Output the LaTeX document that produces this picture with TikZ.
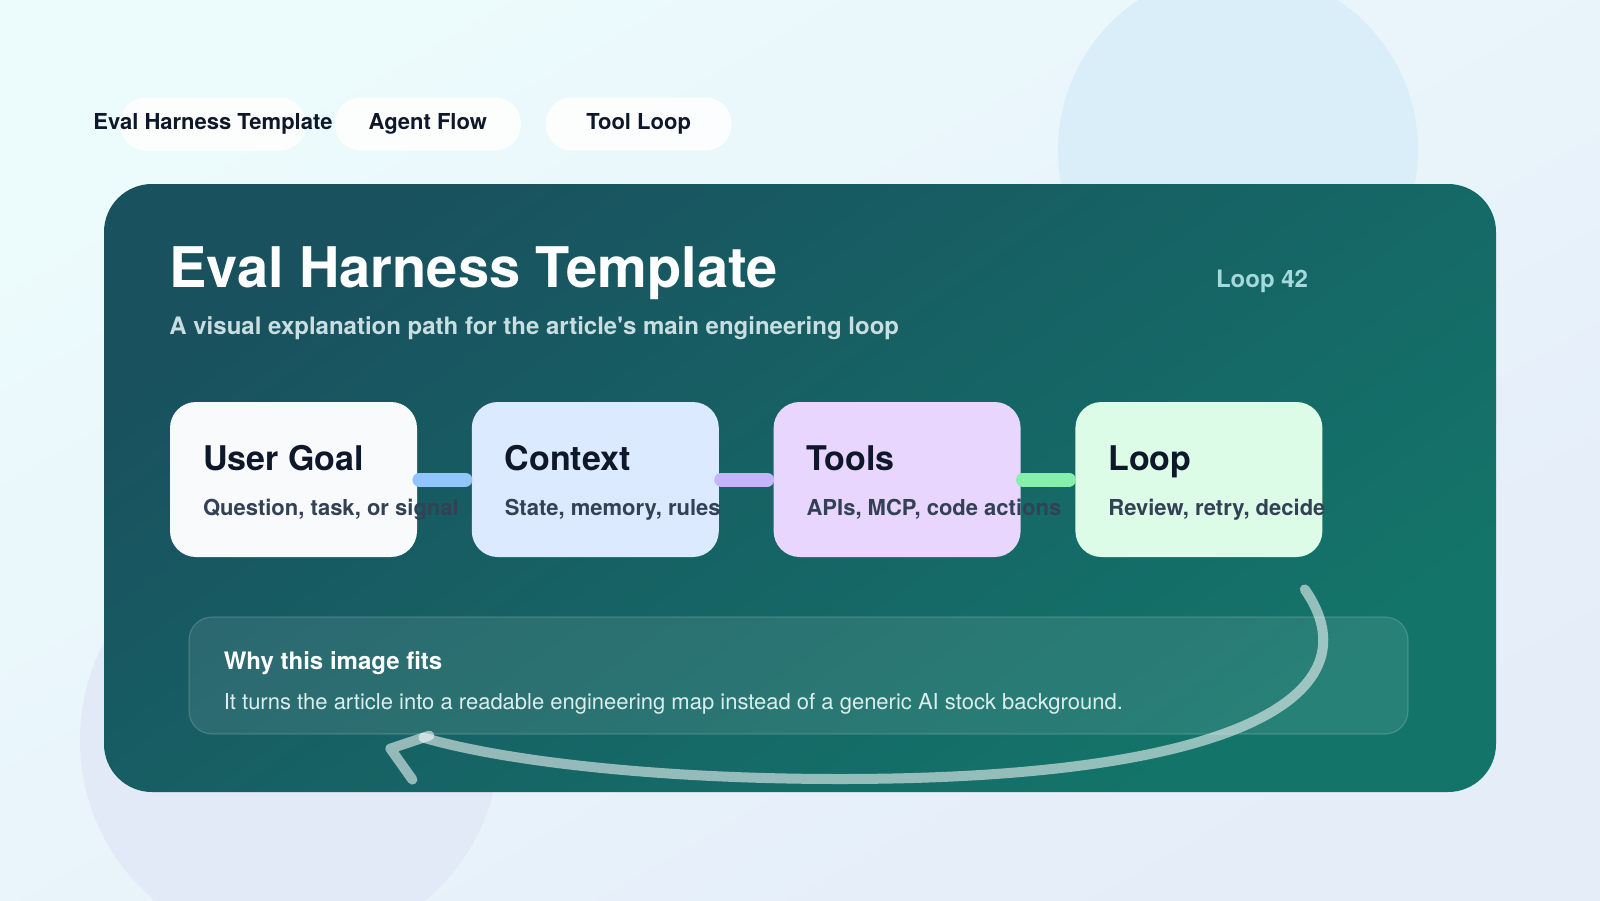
\documentclass[tikz,border=0pt]{standalone}
\usepackage{fontspec}
\setmainfont{TeX Gyre Heros}
\usepackage{tikz}
\usetikzlibrary{positioning}
\definecolor{bgtl}{HTML}{ECFBFC}
\definecolor{bgbr}{HTML}{E5EDF9}
\definecolor{blobblue}{HTML}{D9EEF9}
\definecolor{blobviolet}{HTML}{E2E9F7}
\definecolor{cardtl}{HTML}{19515F}
\definecolor{cardbr}{HTML}{13756A}
\definecolor{ink}{HTML}{0F172A}
\definecolor{slate}{HTML}{334155}
\definecolor{ledetext}{HTML}{C9DEE1}
\definecolor{tallytext}{HTML}{A6D9DD}
\definecolor{bodytext}{HTML}{DCEDED}
\definecolor{goalfill}{HTML}{F8FAFC}
\definecolor{contextfill}{HTML}{DBEAFE}
\definecolor{toolsfill}{HTML}{E9D6FE}
\definecolor{loopfill}{HTML}{DCFCE7}
\definecolor{goallink}{HTML}{93C5FD}
\definecolor{contextlink}{HTML}{C4B5FD}
\definecolor{toolslink}{HTML}{86EFAC}

\begin{document}
\begin{tikzpicture}[
  x=0.5pt, y=0.5pt,
  node distance=27pt,
  pill/.style={
    fill=white, fill opacity=0.85, rounded corners=13pt, minimum width=93pt,
    minimum height=26.5pt, inner sep=0pt
  },
  tabtext/.style={text=ink, font=\bfseries\fontsize{11}{13}\selectfont},
  card/.style={
    minimum width=696pt, minimum height=304pt, rounded corners=24pt, inner sep=0pt,
    top color=cardtl, bottom color=cardbr, shading angle=35
  },
  headline/.style={anchor=base west, inner sep=0pt, text=white,
    font=\bfseries\fontsize{28}{32}\selectfont},
  lede/.style={anchor=base west, inner sep=0pt, text=ledetext,
    font=\bfseries\fontsize{12}{14}\selectfont},
  tally/.style={anchor=base, inner sep=0pt, text=tallytext,
    font=\bfseries\fontsize{12}{14}\selectfont},
  stepbox/.style={
    rounded corners=13pt, minimum width=123.5pt, minimum height=77.5pt, inner sep=0pt
  },
  steptitle/.style={anchor=base west, inner sep=0pt, text=ink,
    font=\bfseries\fontsize{17}{20}\selectfont},
  stepnote/.style={anchor=base west, inner sep=0pt, text=slate,
    font=\bfseries\fontsize{11}{13}\selectfont},
  link/.style={line width=7pt, line cap=round},
  panel/.style={
    minimum width=609.5pt, minimum height=58.5pt, rounded corners=11.5pt, inner sep=0pt,
    fill=white, fill opacity=0.09, draw=white, draw opacity=0.16, line width=0.6pt
  },
  whyhead/.style={anchor=base west, inner sep=0pt, text=white,
    font=\bfseries\fontsize{12}{14}\selectfont},
  whybody/.style={anchor=base west, inner sep=0pt, text=bodytext,
    font=\fontsize{11}{13}\selectfont},
  backarc/.style={draw=white, draw opacity=0.55, line width=5pt,
    line cap=round, line join=round}
]
  % backdrop
  \shade[top color=bgtl, bottom color=bgbr, shading angle=30]
    (0,0) rectangle (1600,-900);
  \useasboundingbox (0,0) rectangle (1600,-900);
  \fill[blobblue] (1238,-150) circle[radius=180];
  \fill[blobviolet] (290,-740) circle[radius=210];

  % tabs
  \node[pill] (pilleval) at (213,-124) {};
  \node[pill, right=14pt of pilleval] (pillagent) {};
  \node[pill, right=12pt of pillagent] (pilltool) {};
  \node[tabtext] (tabeval) at (pilleval) {Eval Harness Template};
  \node[tabtext] (tabagent) at (pillagent) {Agent Flow};
  \node[tabtext] (tabtool) at (pilltool) {Tool Loop};

  % card
  \node[card] (card) at (800,-488) {};
  \node[headline] (title) at (169,-287) {Eval Harness Template};
  \node[lede] (lede) at (169,-334) {A visual explanation path for the article\textquotesingle s main engineering loop};
  \node[tally] (tally) at (1262,-287) {Loop 42};

  % steps
  \node[stepbox, fill=goalfill] (goal) at (293.5,-479.5) {};
  \node[stepbox, fill=contextfill, right=of goal] (context) {};
  \node[stepbox, fill=toolsfill, right=of context] (tools) {};
  \node[stepbox, fill=loopfill, right=of tools] (loop) {};
  \draw[link, draw=goallink] ([xshift=1pt]goal.east) -- ([xshift=-3pt]context.west);
  \draw[link, draw=contextlink] ([xshift=1pt]context.east) -- ([xshift=-3pt]tools.west);
  \draw[link, draw=toolslink] ([xshift=1pt]tools.east) -- ([xshift=-3pt]loop.west);
  \node[steptitle] (goaltitle) at ([shift={(33,-69)}]goal.north west) {User Goal};
  \node[stepnote] (goalnote) at ([shift={(33,-114)}]goal.north west) {Question, task, or signal};
  \node[steptitle] (contexttitle) at ([shift={(33,-69)}]context.north west) {Context};
  \node[stepnote] (contextnote) at ([shift={(33,-114)}]context.north west) {State, memory, rules};
  \node[steptitle] (toolstitle) at ([shift={(33,-69)}]tools.north west) {Tools};
  \node[stepnote] (toolsnote) at ([shift={(33,-114)}]tools.north west) {APIs, MCP, code actions};
  \node[steptitle] (looptitle) at ([shift={(33,-69)}]loop.north west) {Loop};
  \node[stepnote] (loopnote) at ([shift={(33,-114)}]loop.north west) {Review, retry, decide};

  % explanation panel
  \node[panel] (why) at (798.5,-675.5) {};
  \node[whyhead] (whyhead) at ([shift={(35,-53)}]why.north west) {Why this image fits};
  \node[whybody] (whybody) at ([shift={(35,-93)}]why.north west) {It turns the article into a readable engineering map instead of a generic AI stock background.};

  % return arc
  \coordinate (backstart) at ([shift={(-18,-32)}]loop.south east);
  \coordinate (backend) at ([shift={(235,-3)}]why.south west);
  \coordinate (backtip) at ([shift={(-33,-11)}]backend);
  \draw[backarc] (backstart) .. controls (1375,-690) and (1250,-779) .. (840,-779)
    .. controls (650,-779) and (500,-760) .. (backend);
  \draw[backarc] ([shift={(6,2)}]backend) -- (backtip) -- ([shift={(22,-31)}]backtip);
\end{tikzpicture}
\end{document}
